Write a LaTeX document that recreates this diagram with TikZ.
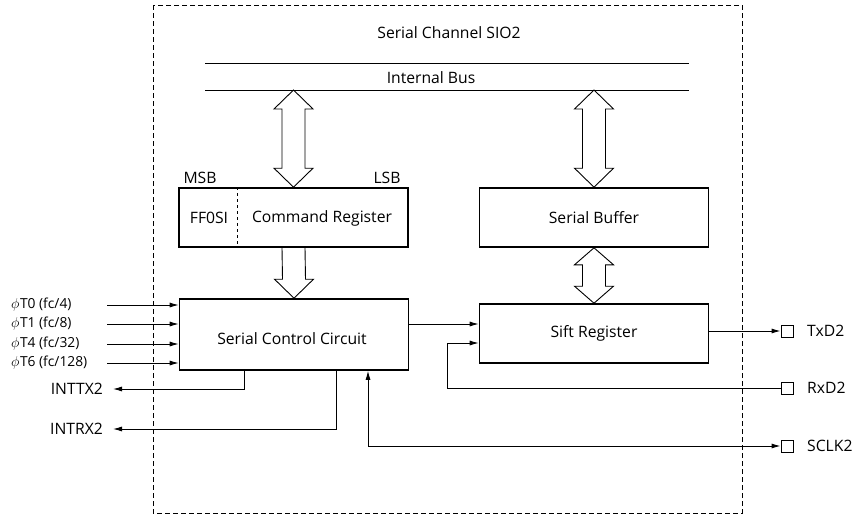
\documentclass[tikz,border=0pt]{standalone}
\usepackage{fontspec}
\setmainfont{Open Sans}
\usetikzlibrary{arrows.meta,calc}
\newcommand\fatboth[3]{\draw[fat] (#1) -- ++(19.5,#3) -- ++(-8,0) -- ($(#2)+(11.5,-#3)$) -- ++(8,0) -- (#2) -- ++(-19.5,-#3) -- ++(8,0) -- ($(#1)+(-11.5,#3)$) -- ++(-8,0) -- cycle;}
\newcommand\phisym{{\fontsize{15}{16}\selectfont$\phi$}\kern0.5pt}
\begin{document}
\begin{tikzpicture}[x=1pt,y=-1pt,
  txt/.style={font=\fontsize{15.7}{18}\selectfont, inner sep=0pt},
  small/.style={font=\fontsize{13.8}{16}\selectfont, inner sep=0pt},
  box/.style={txt, draw, line width=1.6pt, minimum width=229pt, minimum height=59pt},
  wire/.style={line width=0.9pt},
  arr/.style={wire, -{Latex[length=9pt,width=5pt]}},
  fat/.style={line width=0.9pt, line join=miter},
  pin/.style={draw, line width=0.9pt, minimum size=12pt, inner sep=0pt},
  frame/.style={line width=1pt, dash pattern=on 5pt off 3pt}]
\useasboundingbox (0,0) rectangle (856,517);
% frame
\coordinate (fTL) at (153,5);
\coordinate (fBR) at (742,513);
\draw[frame] (fTL) rectangle (fBR);
\node[txt] (title) at (449,33) {Serial Channel SIO2};
% internal bus
\coordinate (busTL) at (205,63);
\coordinate (busTR) at (689,63);
\coordinate (busBL) at (205,90);
\coordinate (busBR) at (689,90);
\draw[wire] (busTL) -- (busTR);
\draw[wire] (busBL) -- (busBR);
\node[txt] (bus) at (431,78) {Internal Bus};
% boxes
\node[box] (cr) at (293.5,217.5) {};
\node[txt] (ff) at (209,218) {FF0SI};
\node[txt] (crt) at (322,218) {Command Register};
\node[txt] (msb) at (200,178) {MSB};
\node[txt] (lsb) at (387,178) {LSB};
\draw[wire, dashed] ($(cr.north west)+(59,0)$) -- ($(cr.south west)+(59,0)$);
\node[box] (sb) at (594,217.5) {Serial Buffer};
\node[box, minimum height=71pt] (scc) at (294,334.5) {};
\node[txt] (scct) at (292,339) {Serial Control Circuit};
\node[box] (sr) at (594,333.5) {Sift Register};
% fat arrows
\fatboth{cr.north |- busBL}{cr.north}{19}
\fatboth{sb.north |- busBL}{sb.north}{19}
\fatboth{sb.south}{sr.north}{17}
\draw[fat] ($(cr.south)+(-11.5,0)$) -- ($(scc.north)+(-11.5,-19)$) -- ++(-8,0) -- (scc.north) -- ++(19.5,-19) -- ++(-8,0) -- ($(cr.south)+(11.5,0)$);
% clock inputs
\node[small, anchor=west] (t0) at (11,305) {\phisym T0 (fc/4)};
\node[small, anchor=west] (t1) at (11,324) {\phisym T1 (fc/8)};
\node[small, anchor=west] (t4) at (11,344) {\phisym T4 (fc/32)};
\node[small, anchor=west] (t6) at (11,363) {\phisym T6 (fc/128)};
\coordinate (i0) at (107,305);
\coordinate (i1) at (107,324);
\coordinate (i4) at (107,344);
\coordinate (i6) at (107,363);
\foreach \c in {i0,i1,i4,i6} \draw[arr] (\c) -- (\c -| scc.west);
% interrupts
\node[txt, anchor=east] (inttx) at (103,389) {INTTX2};
\node[txt, anchor=east] (intrx) at (103,429) {INTRX2};
\coordinate (tx0) at ($(scc.south west)+(66,0)$);
\coordinate (rx0) at ($(scc.south west)+(158,0)$);
\draw[arr] (tx0) |- ($(inttx.east)+(10,0)$);
\draw[arr] (rx0) |- ($(intrx.east)+(10,0)$);
% pins
\node[pin] (p1) at (787,331) {};
\node[pin] (p2) at (787,388) {};
\node[pin] (p3) at (787,446) {};
\node[txt, anchor=west] (txd) at (807,331) {TxD2};
\node[txt, anchor=west] (rxd) at (807,388) {RxD2};
\node[txt, anchor=west] (sclk) at (807,446) {SCLK2};
% connections
\coordinate (c1) at ($(scc.east)+(0,-10.5)$);
\draw[arr] (c1) -- (c1 -| sr.west);
\draw[arr] (sr.east |- p1) -- (p1.west);
\coordinate (rx) at (447,388);
\coordinate (rxin) at ($(sr.west)+(0,9.5)$);
\draw[arr] (p2.west) -- (rx) |- (rxin);
\coordinate (sc) at (368,446);
\draw[wire, {Latex[length=9pt,width=5pt]}-{Latex[length=9pt,width=5pt]}] (scc.south -| sc) -- (sc) -- (p3.west);
\end{tikzpicture}
\end{document}
